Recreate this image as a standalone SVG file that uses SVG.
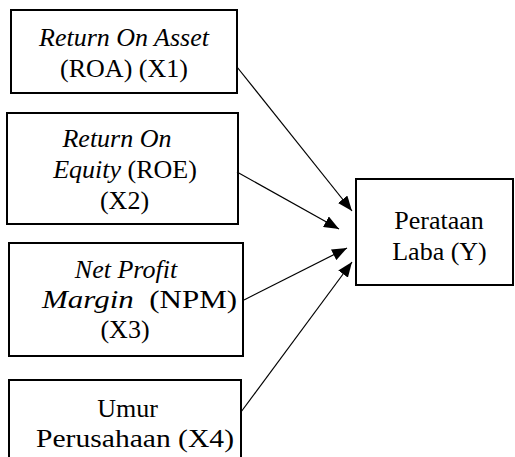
<svg xmlns="http://www.w3.org/2000/svg" width="515" height="457" viewBox="0 0 515 457">
<style>
.box{fill:#fff;stroke:#000;stroke-width:2}
.t{font-family:"Liberation Serif",serif;font-size:26px;fill:#000;white-space:pre}
.i{font-style:italic}
.c{stroke:#000;stroke-width:1.2;fill:none;marker-end:url(#ah)}
</style>
<defs>
<marker id="ah" markerUnits="userSpaceOnUse" markerWidth="15" markerHeight="12" viewBox="0 0 15 12" refX="15" refY="6" orient="auto">
<path d="M0,0 L15,6 L0,12 z" fill="#000"/>
</marker>
</defs>
<rect width="515" height="457" fill="#fff"/>
<g id="roa">
<rect class="box" x="11" y="10" width="226" height="83"/>
<text class="t i" x="124" y="46" text-anchor="middle">Return On Asset</text>
<text class="t" x="124" y="77" text-anchor="middle">(ROA) (X1)</text>
</g>
<g id="roe">
<rect class="box" x="7" y="113" width="231" height="111"/>
<text class="t i" x="117" y="147" text-anchor="middle">Return On</text>
<text class="t" x="125" y="178" text-anchor="middle"><tspan class="i">Equity</tspan> (ROE)</text>
<text class="t" x="124.5" y="209" text-anchor="middle">(X2)</text>
</g>
<g id="npm">
<rect class="box" x="9" y="243" width="234" height="113"/>
<text class="t i" x="126" y="278" text-anchor="middle">Net Profit</text>
<text class="t" x="42" y="308" textLength="195" lengthAdjust="spacingAndGlyphs"><tspan class="i">Margin</tspan>  (NPM)</text>
<text class="t" x="125" y="338" text-anchor="middle">(X3)</text>
</g>
<g id="umur">
<rect class="box" x="9" y="380" width="232" height="100"/>
<text class="t" x="127.5" y="417" text-anchor="middle">Umur</text>
<text class="t" x="36" y="447" textLength="198" lengthAdjust="spacingAndGlyphs">Perusahaan (X4)</text>
</g>
<g id="laba">
<rect class="box" x="356" y="179" width="157" height="106"/>
<text class="t" x="439" y="229" text-anchor="middle">Perataan</text>
<text class="t" x="439.5" y="260" text-anchor="middle">Laba (Y)</text>
</g>
<g id="connectors">
<line class="c" x1="237" y1="67" x2="352" y2="211"/>
<line class="c" x1="237" y1="172" x2="339" y2="229"/>
<line class="c" x1="244" y1="300" x2="347" y2="248"/>
<line class="c" x1="241" y1="412" x2="352" y2="262"/>
</g>
</svg>
